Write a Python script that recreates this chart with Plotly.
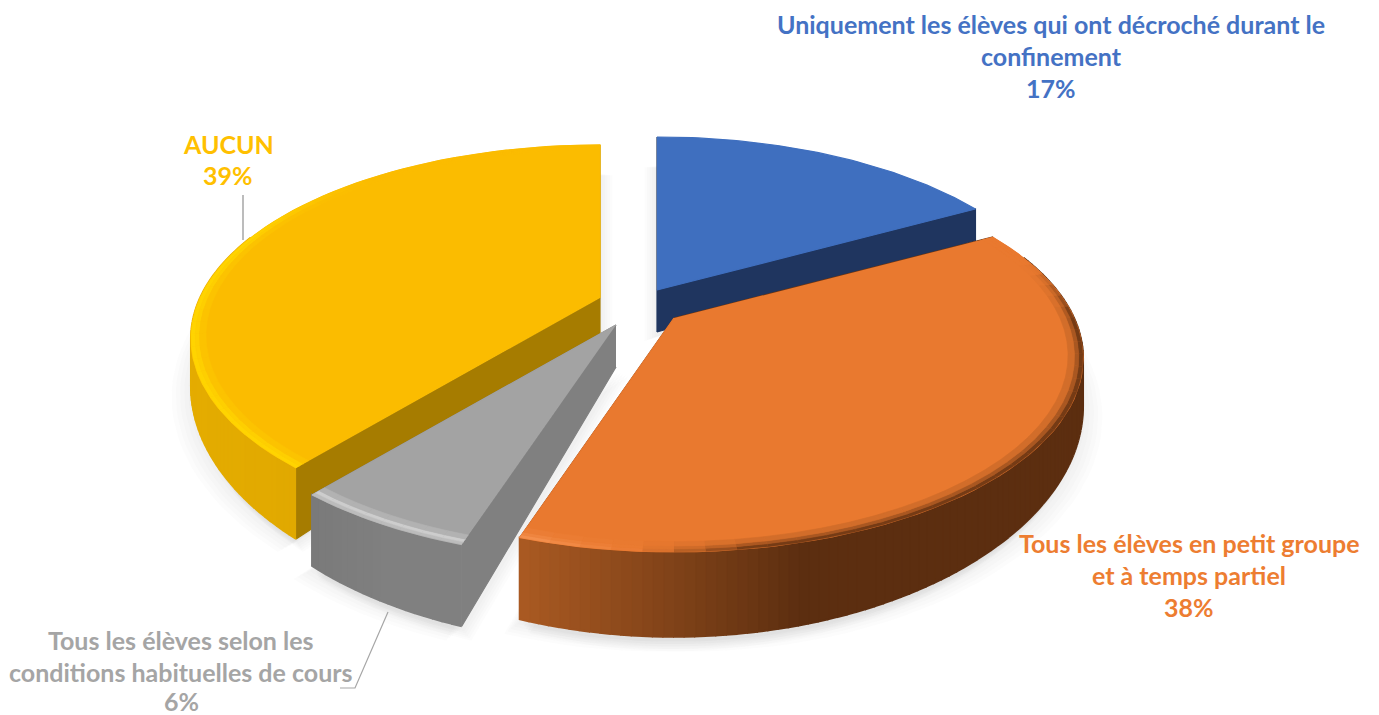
import math
import plotly.graph_objects as go

categories = ["Uniquement les élèves qui ont décroché durant le confinement",
              "Tous les élèves en petit groupe et à temps partiel",
              "Tous les élèves selon les conditions habituelles de cours",
              "AUCUN"]
values = [17, 38, 6, 39]
label_lines = [["Uniquement les élèves qui ont décroché durant le", "confinement", "17%"],
               ["Tous les élèves en petit groupe", "et à temps partiel", "38%"],
               ["Tous les élèves selon les", "conditions habituelles de cours", "6%"],
               ["AUCUN", "39%"]]
label_colors = ["#4472C4", "#ED7D31", "#A5A5A5", "#FFC000"]
label_pos = [(1051, [24, 56, 88]), (1189, [543, 575, 607]), (181, [640, 672, 701]), (228, [144, 175])]

top_colors = [(63, 111, 191), (233, 121, 47), (163, 163, 163), (251, 188, 0)]
radial_colors = ["#1F355F", "#6B3512", "#808080", "#A67C00"]
wall_left = [(31, 53, 95), (170, 90, 34), (122, 122, 122), (228, 172, 0)]
wall_right = [(31, 53, 95), (92, 46, 16), (128, 128, 128), (222, 166, 0)]
apexes = [(657, 290), (674, 318), (616, 325), (600, 298)]
A, B, K, DEPTH = 400.0, 185.0, 0.209, 42.0
draw_order = [0, 3, 2, 1]
ring_edges = [1.0, 0.99, 0.98, 0.965]
ring_gains = {1: [1.0, 0.55, 0.2], 2: [0.6, 1.0, 0.35], 3: [1.0, 0.8, 0.3]}


def proj(apex, th, r=1.0, z=0.0):
    X, Y = r * math.sin(th), r * math.cos(th)
    w = 1 + K * Y
    return apex[0] + A * X / w, apex[1] - B * Y / w + z * DEPTH / w ** 3


def arc(apex, a0, a1, r=1.0, z=0.0, n=60):
    pts = [proj(apex, a0 + (a1 - a0) * i / n, r, z) for i in range(n + 1)]
    return [p[0] for p in pts], [p[1] for p in pts]


def mix(c0, c1, t):
    t = max(0, min(1, t))
    return tuple(c0[i] + (c1[i] - c0[i]) * t for i in range(3))


def rgb(c):
    return "rgb(%d,%d,%d)" % tuple(round(x) for x in c)


fig = go.Figure()


def poly(xs, ys, color, line=True, opacity=None, lw=1.2):
    fig.add_trace(go.Scatter(x=xs, y=ys, mode="lines", fill="toself", fillcolor=color,
                             line=dict(color=color, width=lw if line else 0),
                             opacity=opacity, hoverinfo="skip", showlegend=False))


def rim(i, th, xfrac):
    """edge colour and strength of the bevel on slice i at angle th"""
    c = math.cos(th)
    if i == 1:
        dark = (96, 48, 16)
        light = (246, 146, 80)
        if xfrac < 0.22:
            return mix(light, top_colors[1], xfrac / 0.22), 1.0
        return dark, max(0, min(1, (xfrac - 0.22) / 0.2)) * max(0, min(1, (0.3 - c) / 0.3)) * 0.85
    if i == 2:
        return (205, 205, 205), 1.0
    if i == 3:
        return (255, 212, 0), max(0, min(1, (0.75 - c) / 0.4))
    return top_colors[0], 0


slices = []
acc = 0
for v in values:
    slices.append((acc / 100 * 2 * math.pi, (acc + v) / 100 * 2 * math.pi))
    acc += v

# soft shadow under every slice
for i in draw_order:
    a0, a1 = slices[i]
    ax, ay = apexes[i]
    for s in range(5):
        for dx in (-(s + 1) * 2.5, (s + 1) * 2.5):
            ap = (ax + dx, ay + 5 + s)
            xs, ys = arc(ap, a0, a1, 1.0 + 0.004 * s, 1.0)
            bx, by = proj(ap, 0, 0, 1)
            poly(xs + [bx], ys + [by], "rgb(120,120,120)", line=False, opacity=0.02)

for i in draw_order:
    a0, a1 = slices[i]
    apex = apexes[i]
    ab = proj(apex, 0, 0, 1)
    # radial walls
    for th in (a0, a1):
        p = proj(apex, th)
        q = proj(apex, th, 1, 1)
        poly([apex[0], p[0], q[0], ab[0]], [apex[1], p[1], q[1], ab[1]], radial_colors[i])
    # outer wall, one thin band per step, shaded left to right
    n = max(10, round(values[i] * 3))
    xs_all = arc(apex, a0, a1)[0]
    xl, xr = min(xs_all), max(xs_all)
    for k in range(n):
        t0 = a0 + (a1 - a0) * k / n
        t1 = a0 + (a1 - a0) * (k + 1) / n
        if math.cos((t0 + t1) / 2) > 0.35:
            continue
        p0, p1 = proj(apex, t0), proj(apex, t1)
        q0, q1 = proj(apex, t0, 1, 1), proj(apex, t1, 1, 1)
        frac = ((p0[0] + p1[0]) / 2 - xl) / (0.5 * (xr - xl) + 1)
        poly([p0[0], p1[0], q1[0], q0[0]], [p0[1], p1[1], q1[1], q0[1]], rgb(mix(wall_left[i], wall_right[i], frac)), lw=2)
    # top face
    xs, ys = arc(apex, a0, a1)
    poly(xs + [apex[0]], ys + [apex[1]], rgb(top_colors[i]))
    # bevel along the rim, three soft rings
    if i in ring_gains:
        m = max(8, values[i])
        for ring, gain in enumerate(ring_gains[i]):
            r0, r1 = ring_edges[ring], ring_edges[ring + 1]
            for k in range(m):
                t0 = a0 + (a1 - a0) * k / m
                t1 = a0 + (a1 - a0) * (k + 1) / m
                p0, p1 = proj(apex, t0, r0), proj(apex, t1, r0)
                p2, p3 = proj(apex, t1, r1), proj(apex, t0, r1)
                f = ((p0[0] + p1[0]) / 2 - xl) / (xr - xl)
                edge, amount = rim(i, (t0 + t1) / 2, f)
                col = rgb(mix(top_colors[i], edge, amount * gain))
                poly([p0[0], p1[0], p2[0], p3[0]], [p0[1], p1[1], p2[1], p3[1]], col, lw=0.6)

# leader lines
fig.add_trace(go.Scatter(x=[243, 243], y=[195, 240], mode="lines", line=dict(color="#A6A6A6", width=1.5),
                         hoverinfo="skip", showlegend=False))
fig.add_trace(go.Scatter(x=[388, 355, 340], y=[612, 688, 688], mode="lines", line=dict(color="#A6A6A6", width=1.2),
                         hoverinfo="skip", showlegend=False))

for lines, col, (x, ys) in zip(label_lines, label_colors, label_pos):
    for line, y in zip(lines, ys):
        fig.add_annotation(x=x, y=y, text="<b>%s</b>" % line, showarrow=False, xanchor="center", yanchor="middle",
                           font=dict(family="Lato", size=25, color=col))

fig.update_xaxes(range=[0, 1379], visible=False, fixedrange=True)
fig.update_yaxes(range=[715, 0], visible=False, fixedrange=True)
fig.update_layout(width=1379, height=715, margin=dict(l=0, r=0, t=0, b=0),
                  paper_bgcolor="white", plot_bgcolor="white", showlegend=False)
fig.write_html("out.html", config={"displayModeBar": False},
               post_script="document.body.style.margin='0';")
